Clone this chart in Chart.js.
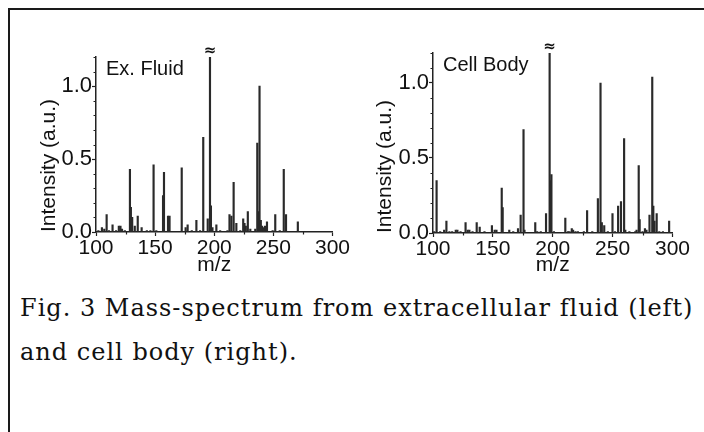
<!DOCTYPE html>
<html>
<head>
<meta charset="utf-8">
<script src="https://cdn.jsdelivr.net/npm/chart.js@4.4.1/dist/chart.umd.min.js"></script>
<style>
  html, body { margin: 0; padding: 0; background: #fff; width: 704px; height: 432px; overflow: hidden; }
  #marco { position: absolute; left: 8px; top: 8px; width: 800px; height: 600px; border: 2px solid #1a1a1a; }
  .grafico { position: absolute; }
  .pie { position: absolute; left: 20px; font-family: 'DejaVu Serif', serif; font-size: 24px; letter-spacing: 1px; line-height: 28px; color: #111; white-space: nowrap; }
</style>
</head>
<body>
<div id="marco"></div>
<div class="grafico" style="left:20px;top:36px;width:330px;height:254px"><canvas id="plot1" width="330" height="254" style="width:330px;height:254px"></canvas></div>
<div class="grafico" style="left:350px;top:36px;width:340px;height:254px"><canvas id="plot2" width="340" height="254" style="width:340px;height:254px"></canvas></div>
<div class="pie" style="top:294px">Fig. 3 Mass-spectrum from extracellular fluid (left)</div>
<div class="pie" style="top:338px">and cell body (right).</div>
<script>
// Espectro del fluido extracelular (izquierda)
let mzFluido = [102, 105, 107, 109, 111, 114, 117, 119.3, 120.7, 122, 124.4,
  128.7, 129.5, 130.6, 132.8, 135.3, 138.6, 143, 146, 148.7, 151, 156.7, 157.5,
  160.9, 162.2, 172.5, 175.8, 177.5, 181, 184.9, 188, 190.7, 194.5, 196.4, 197.2,
  198.5, 201.8, 205, 211.2, 212.9, 214.5, 216.4, 218.7, 222, 224.5, 225.6, 226.7,
  228.4, 230.5, 234.7, 236.4, 237.5, 238.3, 239.4, 240.5, 241.7, 243, 244.6,
  249.4, 251.6, 255.4, 258.8, 260.7, 270.7]
let intFluido = [0.01, 0.03, 0.02, 0.12, 0.01, 0.05, 0.01, 0.04, 0.04, 0.02, 0.01,
  0.43, 0.17, 0.10, 0.04, 0.11, 0.03, 0.01, 0.01, 0.46, 0.01, 0.25, 0.41,
  0.11, 0.11, 0.44, 0.03, 0.05, 0.01, 0.08, 0.01, 0.65, 0.09, 1.2, 0.18,
  0.03, 0.05, 0.01, 0.01, 0.12, 0.11, 0.34, 0.06, 0.01, 0.09, 0.06, 0.04,
  0.14, 0.02, 0.02, 0.61, 0.14, 1.0, 0.08, 0.04, 0.03, 0.04, 0.07,
  0.01, 0.12, 0.01, 0.43, 0.12, 0.07]

// Espectro del cuerpo celular (derecha)
let mzCuerpo = [101, 103, 106, 109.3, 111.2, 113.7, 116, 119, 120.4, 123, 127.2,
  129, 130.4, 133, 136.5, 139, 143, 149.2, 151.5, 153, 157.4, 158.2, 163.7, 167,
  171, 173.2, 175.6, 176.4, 185.4, 187, 190, 194.4, 197.4, 197.9, 198.9, 201,
  210.5, 212.7, 214, 215.9, 217, 219, 221, 226, 228.7, 233, 237.7, 239.9, 241,
  243, 246, 249.9, 252, 254.6, 257, 259.6, 260.6, 264, 268.9, 270, 271.8, 272.6,
  275, 277, 278.3, 280.8, 283.1, 284, 285, 286.8, 289, 292, 297.2]
let intCuerpo = [0.01, 0.35, 0.01, 0.02, 0.08, 0.01, 0.01, 0.02, 0.02, 0.01, 0.07,
  0.02, 0.02, 0.01, 0.07, 0.04, 0.01, 0.05, 0.02, 0.02, 0.30, 0.17, 0.02, 0.01,
  0.03, 0.12, 0.69, 0.02, 0.07, 0.01, 0.01, 0.13, 1.2, 0.35, 0.39, 0.01,
  0.10, 0.01, 0.01, 0.03, 0.02, 0.01, 0.01, 0.01, 0.15, 0.01, 0.23, 1.0, 0.07,
  0.05, 0.01, 0.13, 0.01, 0.18, 0.21, 0.63, 0.02, 0.01, 0.01, 0.02, 0.45, 0.09,
  0.01, 0.03, 0.02, 0.12, 1.04, 0.18, 0.08, 0.13, 0.01, 0.01, 0.08]

// Marcas de los ejes
let xTicks = [100, 150, 200, 250, 300]
let xMenores = [125, 175, 225, 275]
let yTicks = [0, 0.5, 1.0]
let yMenores = [0.1, 0.2, 0.3, 0.4, 0.6, 0.7, 0.8, 0.9, 1.1, 1.2]

let fuente = 'Liberation Sans'
let negro = '#222'

// Plugin: marcas menores, etiqueta del panel y simbolo de corte
let marcasMenores = {
  id: 'marcasMenores',
  afterDraw(chart, args, opts) {
    let ctx = chart.ctx
    let area = chart.chartArea
    let x = chart.scales.x
    let y = chart.scales.y
    ctx.save()
    ctx.strokeStyle = negro
    ctx.lineWidth = 1.2
    ctx.beginPath()
    yMenores.forEach(v => {
      let py = Math.round(y.getPixelForValue(v)) + 0.5
      ctx.moveTo(area.left - 2.5, py)
      ctx.lineTo(area.left, py)
    })
    xMenores.forEach(v => {
      let px = Math.round(x.getPixelForValue(v)) + 0.5
      ctx.moveTo(px, area.bottom)
      ctx.lineTo(px, area.bottom + 2.5)
    })
    ctx.stroke()

    //Etiqueta del panel
    ctx.fillStyle = '#111'
    ctx.font = '20px "' + fuente + '"'
    ctx.textBaseline = 'middle'
    ctx.textAlign = 'left'
    ctx.fillText(opts.texto, area.left + 10, area.top + 12)

    //Simbolo de corte sobre el pico mas alto
    let datos = chart.data.datasets[0].data
    let alto = datos.reduce((a, b) => (b.y > a.y ? b : a))
    ctx.font = 'bold 15px "DejaVu Sans"'
    ctx.textAlign = 'center'
    ctx.fillText('\u2248', x.getPixelForValue(alto.x), area.top - 6)
    ctx.restore()
  }
}

let crearEspectro = (idCanvas, mz, intensidad, texto, anchoY, altoX, padTop, padRight, padTitulo) => {
  let plotRef = document.getElementById(idCanvas)
  let data = mz.map((m, i) => ({ x: m, y: intensidad[i] }))
  let fuenteTicks = { family: fuente, size: 21 }

  let config = {
    type: 'bar',
    data: {
      datasets: [
        {
          data: data,
          backgroundColor: '#2a2a2a',
          borderWidth: 0,
          barThickness: 1.5
        }
      ]
    },
    options: {
      responsive: false,
      animation: false,
      devicePixelRatio: 1,
      layout: { padding: { top: padTop, right: padRight, left: 0, bottom: 0 } },
      plugins: {
        legend: { display: false },
        tooltip: { enabled: false },
        marcasMenores: { texto: texto }
      },
      scales: {
        x: {
          type: 'linear',
          min: 100,
          max: 300,
          offset: false,
          afterBuildTicks: s => { s.ticks = xTicks.map(v => ({ value: v })) },
          afterFit: s => { s.height = altoX },
          grid: { display: true, drawOnChartArea: false, offset: false, tickLength: 4, tickColor: negro, tickWidth: 1.2 },
          border: { display: true, color: negro, width: 1.5 },
          ticks: { font: fuenteTicks, color: '#111', padding: 0, maxRotation: 0, autoSkip: false },
          title: { display: true, text: 'm/z', font: fuenteTicks, color: '#111', padding: { top: 0, bottom: 12 } }
        },
        y: {
          min: 0,
          max: 1.2,
          afterBuildTicks: s => { s.ticks = yTicks.map(v => ({ value: v })) },
          afterFit: s => { s.width = anchoY },
          grid: { display: true, drawOnChartArea: false, tickLength: 4, tickColor: negro, tickWidth: 1.2 },
          border: { display: true, color: negro, width: 1.5 },
          ticks: { font: { family: fuente, size: 22 }, color: '#111', padding: 0, callback: v => v.toFixed(1) },
          title: { display: true, text: 'Intensity (a.u.)', align: 'start', font: fuenteTicks, color: '#111', padding: { top: padTitulo, bottom: 0 } }
        }
      }
    },
    plugins: [marcasMenores]
  }

  return new Chart(plotRef, config)
}

crearEspectro('plot1', mzFluido, intFluido, 'Ex. Fluid', 76, 58, 21, 13, 17)
crearEspectro('plot2', mzCuerpo, intCuerpo, 'Cell Body', 83, 57, 17, 12, 23)
</script>
</body>
</html>
